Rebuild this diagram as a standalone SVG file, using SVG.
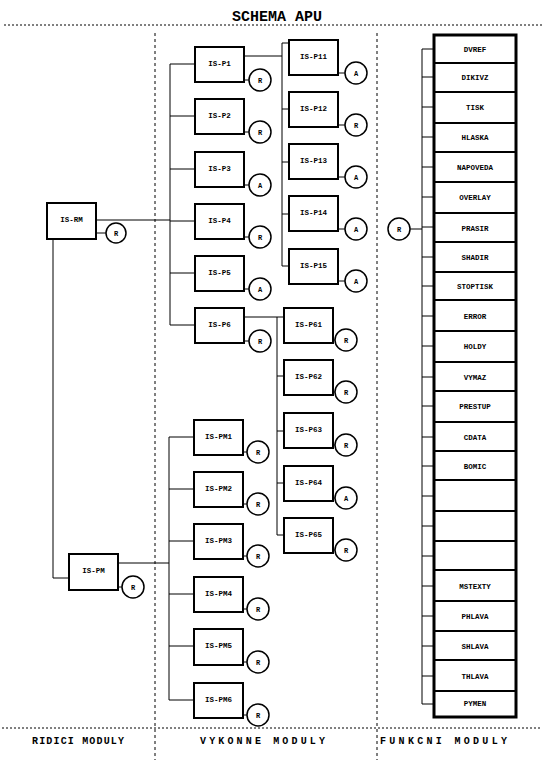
<svg xmlns="http://www.w3.org/2000/svg" width="542" height="765" viewBox="0 0 542 765">
<style>
.bg{fill:#fff}
.box{fill:#fff;stroke:#000;stroke-width:2}
.cir{fill:#fff;stroke:#000;stroke-width:1.5}
.ln{fill:none;stroke:#000;stroke-width:1}
.div{fill:none;stroke:#000;stroke-width:1;stroke-dasharray:3 3}
.dot{fill:none;stroke:#000;stroke-width:1;stroke-dasharray:2 2}
.sep{stroke:#000;stroke-width:2}
.t{font-family:"Liberation Mono","DejaVu Sans Mono",monospace;font-weight:bold;font-size:7.5px;text-anchor:middle;fill:#000}
.c{font-family:"Liberation Mono","DejaVu Sans Mono",monospace;font-weight:bold;font-size:7px;text-anchor:middle;fill:#000}
.title{font-family:"Liberation Mono","DejaVu Sans Mono",monospace;font-weight:bold;font-size:15px;text-anchor:middle;fill:#000}
.foot{font-family:"Liberation Mono","DejaVu Sans Mono",monospace;font-weight:bold;font-size:10px;fill:#000}
</style>
<rect class="bg" x="0" y="0" width="542" height="765"/>

<g id="frame">
<text class="title" x="277" y="21">SCHEMA APU</text>
<line class="dot" x1="4" y1="25" x2="542" y2="25"/>
<line class="div" x1="155" y1="33" x2="155" y2="760"/>
<line class="div" x1="377" y1="33" x2="377" y2="760"/>
<line class="dot" x1="2" y1="728" x2="542" y2="728"/>
<text class="foot" x="32" y="744" textLength="92" lengthAdjust="spacing">RIDICI MODULY</text>
<text class="foot" x="200" y="744" textLength="125" lengthAdjust="spacing">VYKONNE MODULY</text>
<text class="foot" x="380" y="744" textLength="127" lengthAdjust="spacing">FUNKCNI MODULY</text>
</g>

<g id="connectors">
<polyline class="ln" points="96,220 170,220"/>
<polyline class="ln" points="170,64 170,325"/>
<line class="ln" x1="170" y1="64" x2="195" y2="64"/>
<line class="ln" x1="170" y1="116" x2="195" y2="116"/>
<line class="ln" x1="170" y1="169" x2="195" y2="169"/>
<line class="ln" x1="170" y1="221" x2="195" y2="221"/>
<line class="ln" x1="170" y1="273" x2="195" y2="273"/>
<line class="ln" x1="170" y1="325" x2="195" y2="325"/>
<polyline class="ln" points="53,239 53,578 69,578"/>
<polyline class="ln" points="118,563 169,563"/>
<polyline class="ln" points="169,437 169,700"/>
<line class="ln" x1="169" y1="437" x2="194" y2="437"/>
<line class="ln" x1="169" y1="489" x2="194" y2="489"/>
<line class="ln" x1="169" y1="541" x2="194" y2="541"/>
<line class="ln" x1="169" y1="594" x2="194" y2="594"/>
<line class="ln" x1="169" y1="646" x2="194" y2="646"/>
<line class="ln" x1="169" y1="700" x2="194" y2="700"/>
<polyline class="ln" points="244,56 282,56"/>
<polyline class="ln" points="282,43 282,266"/>
<line class="ln" x1="282" y1="43" x2="289" y2="43"/>
<line class="ln" x1="282" y1="109" x2="289" y2="109"/>
<line class="ln" x1="282" y1="162" x2="289" y2="162"/>
<line class="ln" x1="282" y1="214" x2="289" y2="214"/>
<line class="ln" x1="282" y1="266" x2="289" y2="266"/>
<polyline class="ln" points="244,317 284,317"/>
<polyline class="ln" points="277,317 277,535"/>
<line class="ln" x1="277" y1="376" x2="284" y2="376"/>
<line class="ln" x1="277" y1="431" x2="284" y2="431"/>
<line class="ln" x1="277" y1="483" x2="284" y2="483"/>
<line class="ln" x1="277" y1="535" x2="284" y2="535"/>
<polyline class="ln" points="434,49 422,49 422,704 434,704"/>
<line class="ln" x1="410" y1="229" x2="422" y2="229"/>
<line class="ln" x1="422" y1="77" x2="434" y2="77"/>
<line class="ln" x1="422" y1="107" x2="434" y2="107"/>
<line class="ln" x1="422" y1="137" x2="434" y2="137"/>
<line class="ln" x1="422" y1="167" x2="434" y2="167"/>
<line class="ln" x1="422" y1="197" x2="434" y2="197"/>
<line class="ln" x1="422" y1="227" x2="434" y2="227"/>
<line class="ln" x1="422" y1="257" x2="434" y2="257"/>
<line class="ln" x1="422" y1="286" x2="434" y2="286"/>
<line class="ln" x1="422" y1="316" x2="434" y2="316"/>
<line class="ln" x1="422" y1="346" x2="434" y2="346"/>
<line class="ln" x1="422" y1="377" x2="434" y2="377"/>
<line class="ln" x1="422" y1="406" x2="434" y2="406"/>
<line class="ln" x1="422" y1="437" x2="434" y2="437"/>
<line class="ln" x1="422" y1="466" x2="434" y2="466"/>
<line class="ln" x1="422" y1="496" x2="434" y2="496"/>
<line class="ln" x1="422" y1="526" x2="434" y2="526"/>
<line class="ln" x1="422" y1="556" x2="434" y2="556"/>
<line class="ln" x1="422" y1="586" x2="434" y2="586"/>
<line class="ln" x1="422" y1="616" x2="434" y2="616"/>
<line class="ln" x1="422" y1="646" x2="434" y2="646"/>
<line class="ln" x1="422" y1="676" x2="434" y2="676"/>
</g>

<g id="IS-RM">
<rect class="box" x="47" y="203" width="49" height="36"/>
<text class="t" x="71.5" y="222">IS-RM</text>
<line class="ln" x1="96" y1="233" x2="106" y2="233"/>
<circle class="cir" cx="116" cy="233" r="10"/>
<text class="c" x="116" y="235.5">R</text>
</g>
<g id="IS-PM">
<rect class="box" x="69" y="554" width="49" height="36"/>
<text class="t" x="93.5" y="573">IS-PM</text>
<line class="ln" x1="118" y1="587" x2="122" y2="587"/>
<circle class="cir" cx="133" cy="587" r="11"/>
<text class="c" x="133" y="589.5">R</text>
</g>

<g id="IS-P1"><rect class="box" x="195" y="47" width="49" height="35"/><text class="t" x="219.5" y="66">IS-P1</text><line class="ln" x1="244" y1="80" x2="249" y2="80"/><circle class="cir" cx="260" cy="80" r="11"/><text class="c" x="260" y="82.5">R</text></g>
<g id="IS-P2"><rect class="box" x="195" y="99" width="49" height="35"/><text class="t" x="219.5" y="118">IS-P2</text><line class="ln" x1="244" y1="132" x2="249" y2="132"/><circle class="cir" cx="260" cy="132" r="11"/><text class="c" x="260" y="134.5">R</text></g>
<g id="IS-P3"><rect class="box" x="195" y="152" width="49" height="35"/><text class="t" x="219.5" y="171">IS-P3</text><line class="ln" x1="244" y1="185" x2="249" y2="185"/><circle class="cir" cx="260" cy="185" r="11"/><text class="c" x="260" y="187.5">A</text></g>
<g id="IS-P4"><rect class="box" x="195" y="204" width="49" height="35"/><text class="t" x="219.5" y="223">IS-P4</text><line class="ln" x1="244" y1="237" x2="249" y2="237"/><circle class="cir" cx="260" cy="237" r="11"/><text class="c" x="260" y="239.5">R</text></g>
<g id="IS-P5"><rect class="box" x="195" y="256" width="49" height="35"/><text class="t" x="219.5" y="275">IS-P5</text><line class="ln" x1="244" y1="289" x2="249" y2="289"/><circle class="cir" cx="260" cy="289" r="11"/><text class="c" x="260" y="291.5">A</text></g>
<g id="IS-P6"><rect class="box" x="195" y="308" width="49" height="35"/><text class="t" x="219.5" y="327">IS-P6</text><line class="ln" x1="244" y1="341" x2="249" y2="341"/><circle class="cir" cx="260" cy="341" r="11"/><text class="c" x="260" y="343.5">R</text></g>

<g id="IS-P11"><rect class="box" x="289" y="40" width="49" height="35"/><text class="t" x="313.5" y="59">IS-P11</text><line class="ln" x1="338" y1="73" x2="345" y2="73"/><circle class="cir" cx="356" cy="73" r="11"/><text class="c" x="356" y="75.5">A</text></g>
<g id="IS-P12"><rect class="box" x="289" y="92" width="49" height="35"/><text class="t" x="313.5" y="111">IS-P12</text><line class="ln" x1="338" y1="125" x2="345" y2="125"/><circle class="cir" cx="356" cy="125" r="11"/><text class="c" x="356" y="127.5">R</text></g>
<g id="IS-P13"><rect class="box" x="289" y="144" width="49" height="35"/><text class="t" x="313.5" y="163">IS-P13</text><line class="ln" x1="338" y1="177" x2="345" y2="177"/><circle class="cir" cx="356" cy="177" r="11"/><text class="c" x="356" y="179.5">A</text></g>
<g id="IS-P14"><rect class="box" x="289" y="196" width="49" height="35"/><text class="t" x="313.5" y="215">IS-P14</text><line class="ln" x1="338" y1="229" x2="345" y2="229"/><circle class="cir" cx="356" cy="229" r="11"/><text class="c" x="356" y="231.5">A</text></g>
<g id="IS-P15"><rect class="box" x="289" y="249" width="49" height="35"/><text class="t" x="313.5" y="268">IS-P15</text><line class="ln" x1="338" y1="281" x2="345" y2="281"/><circle class="cir" cx="356" cy="281" r="11"/><text class="c" x="356" y="283.5">A</text></g>

<g id="IS-P61"><rect class="box" x="284" y="308" width="49" height="35"/><text class="t" x="308.5" y="327">IS-P61</text><line class="ln" x1="333" y1="340" x2="335" y2="340"/><circle class="cir" cx="346" cy="340" r="11"/><text class="c" x="346" y="342.5">R</text></g>
<g id="IS-P62"><rect class="box" x="284" y="360" width="49" height="35"/><text class="t" x="308.5" y="379">IS-P62</text><line class="ln" x1="333" y1="392" x2="335" y2="392"/><circle class="cir" cx="346" cy="392" r="11"/><text class="c" x="346" y="394.5">R</text></g>
<g id="IS-P63"><rect class="box" x="284" y="413" width="49" height="35"/><text class="t" x="308.5" y="432">IS-P63</text><line class="ln" x1="333" y1="445" x2="335" y2="445"/><circle class="cir" cx="346" cy="445" r="11"/><text class="c" x="346" y="447.5">R</text></g>
<g id="IS-P64"><rect class="box" x="284" y="466" width="49" height="35"/><text class="t" x="308.5" y="485">IS-P64</text><line class="ln" x1="333" y1="498" x2="335" y2="498"/><circle class="cir" cx="346" cy="498" r="11"/><text class="c" x="346" y="500.5">A</text></g>
<g id="IS-P65"><rect class="box" x="284" y="518" width="49" height="35"/><text class="t" x="308.5" y="537">IS-P65</text><line class="ln" x1="333" y1="550" x2="335" y2="550"/><circle class="cir" cx="346" cy="550" r="11"/><text class="c" x="346" y="552.5">R</text></g>

<g id="IS-PM1"><rect class="box" x="194" y="420" width="49" height="35"/><text class="t" x="218.5" y="439">IS-PM1</text><line class="ln" x1="243" y1="452" x2="247" y2="452"/><circle class="cir" cx="258" cy="452" r="11"/><text class="c" x="258" y="454.5">R</text></g>
<g id="IS-PM2"><rect class="box" x="194" y="472" width="49" height="35"/><text class="t" x="218.5" y="491">IS-PM2</text><line class="ln" x1="243" y1="504" x2="247" y2="504"/><circle class="cir" cx="258" cy="504" r="11"/><text class="c" x="258" y="506.5">R</text></g>
<g id="IS-PM3"><rect class="box" x="194" y="524" width="49" height="35"/><text class="t" x="218.5" y="543">IS-PM3</text><line class="ln" x1="243" y1="556" x2="247" y2="556"/><circle class="cir" cx="258" cy="556" r="11"/><text class="c" x="258" y="558.5">R</text></g>
<g id="IS-PM4"><rect class="box" x="194" y="577" width="49" height="35"/><text class="t" x="218.5" y="596">IS-PM4</text><line class="ln" x1="243" y1="609" x2="247" y2="609"/><circle class="cir" cx="258" cy="609" r="11"/><text class="c" x="258" y="611.5">R</text></g>
<g id="IS-PM5"><rect class="box" x="194" y="629" width="49" height="36"/><text class="t" x="218.5" y="648">IS-PM5</text><line class="ln" x1="243" y1="662" x2="247" y2="662"/><circle class="cir" cx="258" cy="662" r="11"/><text class="c" x="258" y="664.5">R</text></g>
<g id="IS-PM6"><rect class="box" x="194" y="683" width="49" height="35"/><text class="t" x="218.5" y="702">IS-PM6</text><line class="ln" x1="243" y1="715" x2="247" y2="715"/><circle class="cir" cx="258" cy="715" r="11"/><text class="c" x="258" y="717.5">R</text></g>

<g id="R-funkcni">
<circle class="cir" cx="399" cy="229" r="11"/><text class="c" x="399" y="231.5">R</text>
</g>

<g id="funkcni-moduly">
<rect x="434" y="35" width="82" height="682" fill="#fff" stroke="#000" stroke-width="3"/>
<line class="sep" x1="434" y1="63" x2="516" y2="63"/>
<line class="sep" x1="434" y1="92" x2="516" y2="92"/>
<line class="sep" x1="434" y1="123" x2="516" y2="123"/>
<line class="sep" x1="434" y1="152" x2="516" y2="152"/>
<line class="sep" x1="434" y1="182" x2="516" y2="182"/>
<line class="sep" x1="434" y1="213" x2="516" y2="213"/>
<line class="sep" x1="434" y1="242" x2="516" y2="242"/>
<line class="sep" x1="434" y1="272" x2="516" y2="272"/>
<line class="sep" x1="434" y1="300" x2="516" y2="300"/>
<line class="sep" x1="434" y1="331" x2="516" y2="331"/>
<line class="sep" x1="434" y1="362" x2="516" y2="362"/>
<line class="sep" x1="434" y1="391" x2="516" y2="391"/>
<line class="sep" x1="434" y1="422" x2="516" y2="422"/>
<line class="sep" x1="434" y1="451" x2="516" y2="451"/>
<line class="sep" x1="434" y1="480" x2="516" y2="480"/>
<line class="sep" x1="434" y1="511" x2="516" y2="511"/>
<line class="sep" x1="434" y1="541" x2="516" y2="541"/>
<line class="sep" x1="434" y1="570" x2="516" y2="570"/>
<line class="sep" x1="434" y1="601" x2="516" y2="601"/>
<line class="sep" x1="434" y1="631" x2="516" y2="631"/>
<line class="sep" x1="434" y1="660" x2="516" y2="660"/>
<line class="sep" x1="434" y1="691" x2="516" y2="691"/>
<text class="t" x="475" y="52">DVREF</text>
<text class="t" x="475" y="80">DIKIVZ</text>
<text class="t" x="475" y="110">TISK</text>
<text class="t" x="475" y="140">HLASKA</text>
<text class="t" x="475" y="170">NAPOVEDA</text>
<text class="t" x="475" y="200">OVERLAY</text>
<text class="t" x="475" y="231">PRASIR</text>
<text class="t" x="475" y="260">SHADIR</text>
<text class="t" x="475" y="289">STOPTISK</text>
<text class="t" x="475" y="319">ERROR</text>
<text class="t" x="475" y="349">HOLDY</text>
<text class="t" x="475" y="380">VYMAZ</text>
<text class="t" x="475" y="409">PRESTUP</text>
<text class="t" x="475" y="440">CDATA</text>
<text class="t" x="475" y="469">BOMIC</text>
<text class="t" x="475" y="589">MSTEXTY</text>
<text class="t" x="475" y="619">PHLAVA</text>
<text class="t" x="475" y="649">SHLAVA</text>
<text class="t" x="475" y="679">THLAVA</text>
<text class="t" x="475" y="706">PYMEN</text>
</g>
</svg>
